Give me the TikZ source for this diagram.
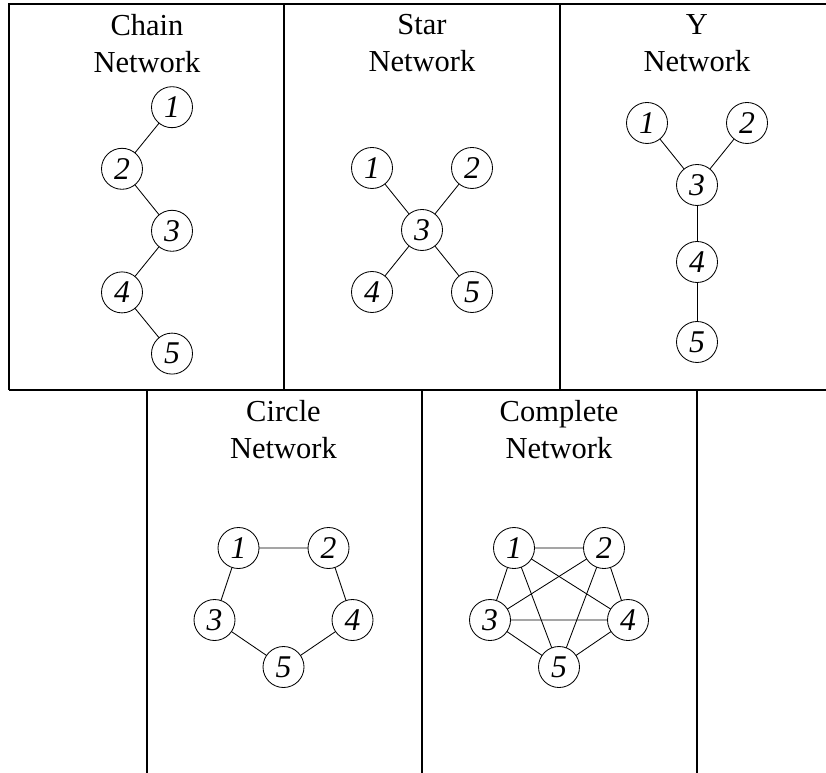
\documentclass[tikz,border=0pt]{standalone}
\usepackage{fontspec}
\setmainfont{Liberation Serif}

\begin{document}
\begin{tikzpicture}[every node/.style={outer sep=0pt}]
\tikzstyle{agent}=[draw,circle,line width=0.6pt,minimum size=1.025cm,inner sep=0pt,font=\fontsize{22.5}{26}\selectfont\itshape]
\tikzstyle{title}=[align=center,anchor=north,inner sep=0pt,font=\fontsize{21.7}{26.5}\selectfont]
\tikzstyle{link}=[line width=0.6pt]
\tikzstyle{frame}=[line width=0.8pt]

\useasboundingbox (0,0) rectangle (20.65,-19.325);

% table lines
\draw [frame] (0.225,-9.75) -- (0.225,-0.1) -- (20.65,-0.1);
\draw [frame] (0.225,-9.75) -- (20.65,-9.75);
\draw [frame] (7.1,-0.1) -- (7.1,-9.75);
\draw [frame] (14.0,-0.1) -- (14.0,-9.75);
\draw [frame] (3.675,-9.75) -- (3.675,-19.325);
\draw [frame] (10.55,-9.75) -- (10.55,-19.325);
\draw [frame] (17.425,-9.75) -- (17.425,-19.325);

% chain
\begin{scope}[xshift=3.675cm]
\node (chain) [title] at (0,-0.36) {Chain\\Network};
\node (ch1) [agent] at (0.625,-2.68) {1};
\node (ch2) [agent] at (-0.625,-4.22) {2};
\node (ch3) [agent] at (0.625,-5.77) {3};
\node (ch4) [agent] at (-0.625,-7.31) {4};
\node (ch5) [agent] at (0.625,-8.84) {5};
\draw [link] (ch1) -- (ch2) -- (ch3) -- (ch4) -- (ch5);
\end{scope}

% star
\begin{scope}[xshift=10.55cm]
\node (star) [title] at (0,-0.36) {Star\\Network};
\node (st1) [agent] at (-1.25,-4.2) {1};
\node (st2) [agent] at (1.25,-4.2) {2};
\node (st3) [agent] at (0,-5.75) {3};
\node (st4) [agent] at (-1.25,-7.3) {4};
\node (st5) [agent] at (1.25,-7.3) {5};
\draw [link] (st1) -- (st3) -- (st5);
\draw [link] (st2) -- (st3) -- (st4);
\end{scope}

% Y
\begin{scope}[xshift=17.425cm]
\node (ynet) [title] at (0,-0.36) {Y\\Network};
\node (y1) [agent] at (-1.25,-3.075) {1};
\node (y2) [agent] at (1.25,-3.075) {2};
\node (y3) [agent] at (0,-4.625) {3};
\node (y4) [agent] at (0,-6.55) {4};
\node (y5) [agent] at (0,-8.55) {5};
\draw [link] (y1) -- (y3) -- (y2);
\draw [link] (y3) -- (y4) -- (y5);
\end{scope}

% circle
\begin{scope}[xshift=7.0875cm]
\node (circ) [title] at (0,-10.01) {Circle\\Network};
\node (ci1) [agent] at (-1.125,-13.7) {1};
\node (ci2) [agent] at (1.125,-13.7) {2};
\node (ci3) [agent] at (-1.725,-15.5) {3};
\node (ci4) [agent] at (1.725,-15.5) {4};
\node (ci5) [agent] at (0,-16.675) {5};
\draw [link] (ci1) -- (ci2) -- (ci4) -- (ci5) -- (ci3) -- (ci1);
\end{scope}

% complete
\begin{scope}[xshift=13.975cm]
\node (comp) [title] at (0,-10.01) {Complete\\Network};
\node (co1) [agent] at (-1.125,-13.7) {1};
\node (co2) [agent] at (1.125,-13.7) {2};
\node (co3) [agent] at (-1.725,-15.5) {3};
\node (co4) [agent] at (1.725,-15.5) {4};
\node (co5) [agent] at (0,-16.675) {5};
\draw [link] (co1) -- (co2) (co1) -- (co3) (co1) -- (co4) (co1) -- (co5);
\draw [link] (co2) -- (co3) (co2) -- (co4) (co2) -- (co5);
\draw [link] (co3) -- (co4) (co3) -- (co5);
\draw [link] (co4) -- (co5);
\end{scope}

\end{tikzpicture}
\end{document}
